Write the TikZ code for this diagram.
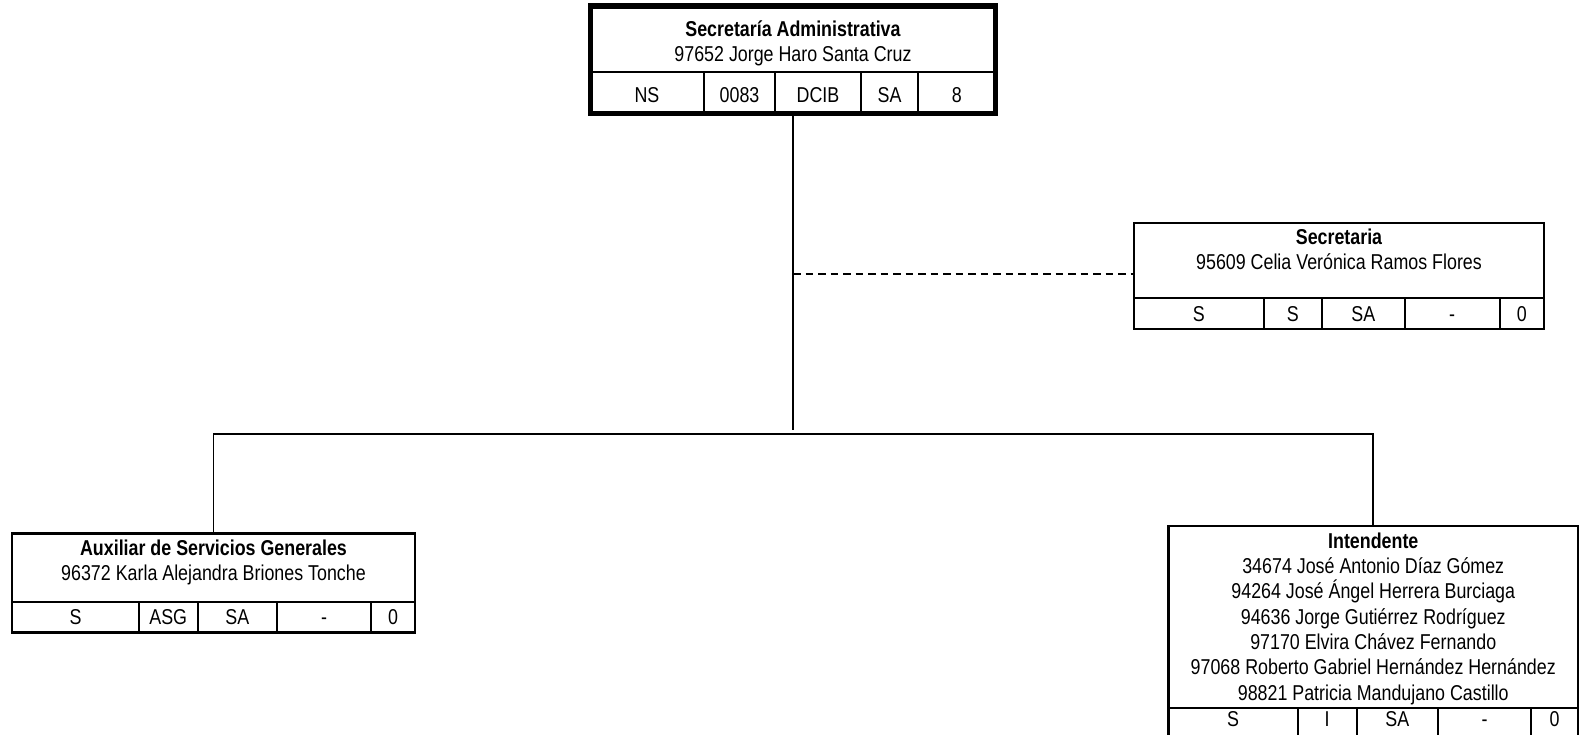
\documentclass[tikz,border=0pt]{standalone}
\usepackage{fontspec}
\setmainfont{Liberation Sans}[FakeStretch=0.83]
\begin{document}
\begin{tikzpicture}[x=1pt,y=-1pt,
  box/.style={draw, line width=2.4pt, rectangle, anchor=north west, outer sep=0pt, inner sep=0pt},
  rule/.style={line width=2pt},
  conn/.style={line width=1.8pt},
  txt/.style={anchor=base, inner sep=0pt, font=\fontsize{21.5}{24}\selectfont},
  ttl/.style={anchor=base, inner sep=0pt, font=\fontsize{21.5}{24}\selectfont\bfseries}]
\useasboundingbox (0,0) rectangle (1580,735);
\clip (0,0) rectangle (1580,735);

% ---- Top box
\node[box, line width=5.5pt, minimum width=405pt, minimum height=107.5pt] (top) at (590.5,6) {};
\node[ttl] (topT) at (793,36.5) {Secretaría Administrativa};
\node[txt] (topN) at (793,61.5) {97652 Jorge Haro Santa Cruz};
\draw[rule] (590.5,72) -- (995.5,72);
\foreach \x in {704,775,861,918} \draw[rule] (\x,72) -- (\x,113.5);
\node[txt] (topc1) at (647,102.7) {NS};
\node[txt] (topc2) at (739.5,102.7) {0083};
\node[txt] (topc3) at (818,102.7) {DCIB};
\node[txt] (topc4) at (889.5,102.7) {SA};
\node[txt] (topc5) at (956.75,102.7) {8};

% ---- Secretaria
\node[box, minimum width=410pt, minimum height=106pt] (sec) at (1134,223) {};
\node[ttl] (secT) at (1339,245) {Secretaria};
\node[txt] (secN) at (1339,270) {95609 Celia Verónica Ramos Flores};
\draw[rule] (1134,298.5) -- (1544,298.5);
\foreach \x in {1263.5,1322,1404.5,1499.5} \draw[rule] (\x,298.5) -- (\x,329);
\node[txt] (secc1) at (1198.75,322) {S};
\node[txt] (secc2) at (1292.75,322) {S};
\node[txt] (secc3) at (1363.25,322) {SA};
\node[txt] (secc4) at (1452,322) {-};
\node[txt] (secc5) at (1521.75,322) {0};

% ---- Auxiliar
\node[box, minimum width=403pt, minimum height=99pt] (aux) at (12,533.5) {};
\node[ttl] (auxT) at (213.5,555.7) {Auxiliar de Servicios Generales};
\node[txt] (auxN) at (213.5,580) {96372 Karla Alejandra Briones Tonche};
\draw[rule] (12,602) -- (415,602);
\foreach \x in {139,197.5,277,371} \draw[rule] (\x,602) -- (\x,632.5);
\node[txt] (auxc1) at (75.5,624.4) {S};
\node[txt] (auxc2) at (168.25,624.4) {ASG};
\node[txt] (auxc3) at (237.25,624.4) {SA};
\node[txt] (auxc4) at (324,624.4) {-};
\node[txt] (auxc5) at (393,624.4) {0};

% ---- Intendente
\node[box, minimum width=409.5pt, minimum height=220pt] (int) at (1168.5,526) {};
\node[ttl] (intT) at (1373.25,548) {Intendente};
\node[txt] (int1) at (1373.25,573.5) {34674 José Antonio Díaz Gómez};
\node[txt] (int2) at (1373.25,598.8) {94264 José Ángel Herrera Burciaga};
\node[txt] (int3) at (1373.25,624.1) {94636 Jorge Gutiérrez Rodríguez};
\node[txt] (int4) at (1373.25,649.4) {97170 Elvira Chávez Fernando};
\node[txt] (int5) at (1373.25,674.7) {97068 Roberto Gabriel Hernández Hernández};
\node[txt] (int6) at (1373.25,700) {98821 Patricia Mandujano Castillo};
\draw[rule] (1168.5,707.5) -- (1578,707.5);
\foreach \x in {1297.5,1356.5,1438,1531} \draw[rule] (\x,707.5) -- (\x,746);
\node[txt] (intc1) at (1233,726.7) {S};
\node[txt] (intc2) at (1327,726.7) {I};
\node[txt] (intc3) at (1397.25,726.7) {SA};
\node[txt] (intc4) at (1484.5,726.7) {-};
\node[txt] (intc5) at (1554.5,726.7) {0};

% ---- Connectors
\coordinate (tj) at (793,430);
\coordinate (bus) at (793,434);
\coordinate (dj) at (793,274);
\draw[conn] (top.south) -- (tj);
\draw[conn] (aux.north) |- (bus) -| (int.north);
\draw[conn, dash pattern=on 7.5pt off 5pt] (dj) -- (dj -| sec.west);
\end{tikzpicture}
\end{document}
